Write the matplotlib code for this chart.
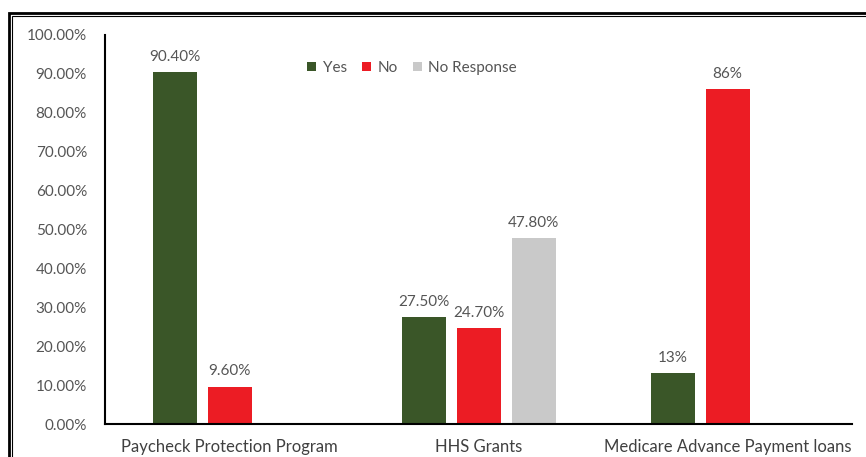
import numpy as np
import matplotlib.pyplot as plt
from matplotlib.lines import Line2D

# data
categories = ['Paycheck Protection Program', 'HHS Grants', 'Medicare Advance Payment loans']
series = ['Yes', 'No', 'No Response']
yes_vals = [90.4, 27.5, 13.0]
no_vals = [9.6, 24.7, 86.0]
noresp_vals = [np.nan, 47.8, np.nan]
yes_labels = ['90.40%', '27.50%', '13%']
no_labels = ['9.60%', '24.70%', '86%']
noresp_labels = ['', '47.80%', '']
yticks = [0, 10, 20, 30, 40, 50, 60, 70, 80, 90, 100]

colors = ['#3a5628', '#ec1c24', '#c9c9c9']
txt = '#555555'
fs = 11

plt.rcParams['font.family'] = ['Lato', 'DejaVu Sans']

fig = plt.figure(figsize=(8.66, 4.57), dpi=100)
ax = fig.add_axes([105/866, 1-424/457, (852-105)/866, (424-35)/457])

x = np.arange(len(categories))
w = 44/249
step = 55/249
vals = [yes_vals, no_vals, noresp_vals]
labs = [yes_labels, no_labels, noresp_labels]
for i in range(3):
    bars = ax.bar(x + (i-1)*step, vals[i], w, color=colors[i], label=series[i])
    ax.bar_label(bars, labels=labs[i], padding=6, fontsize=fs, color=txt)

ax.set_xlim(-0.5, 2.5)
ax.set_ylim(0, 100)
ax.set_yticks(yticks)
ax.set_yticklabels(['%.2f%%' % v for v in yticks])
ax.set_xticks(x)
ax.set_xticklabels(categories)
ax.tick_params(axis='y', length=0, pad=13, labelsize=fs, labelcolor=txt)
ax.tick_params(axis='x', length=0, pad=11, labelsize=12, labelcolor='#404040')
for s in ['top', 'right']:
    ax.spines[s].set_visible(False)
ax.spines['left'].set_linewidth(1.5)
ax.spines['bottom'].set_linewidth(1.5)

ax.legend(loc='center', bbox_to_anchor=(412/866, 1-68/457), bbox_transform=fig.transFigure,
          ncol=3, frameon=False, fontsize=fs, labelcolor=txt,
          handlelength=0.6, handleheight=0.6, handletextpad=0.4, columnspacing=1.0)

# double frame (left and top edges only are in view)
for px, py, lw in [(9, 13, 2), (12, 16, 0.8)]:
    fx, fy = px/866, 1 - py/457
    fig.add_artist(Line2D([fx, fx, 1], [0, fy, fy], transform=fig.transFigure,
                          color='black', linewidth=lw, solid_joinstyle='miter'))

fig.savefig('out.png', dpi=100)
